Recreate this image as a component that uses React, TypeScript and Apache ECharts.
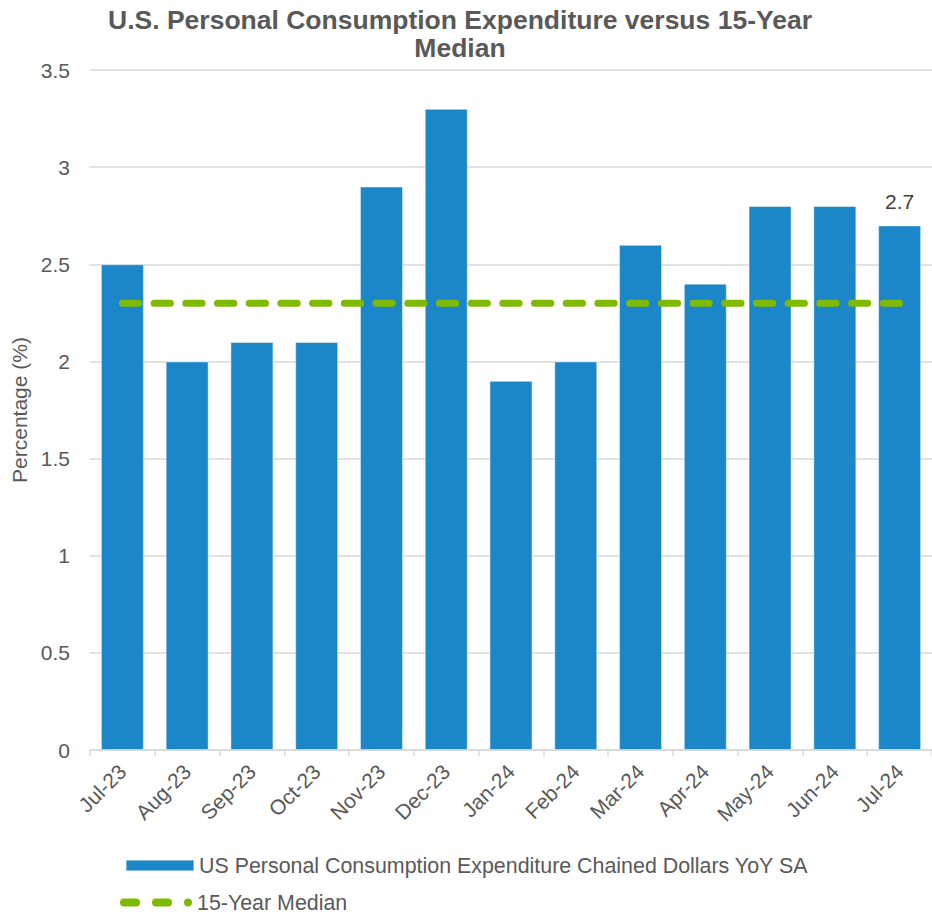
import React, { useEffect, useRef } from "react";
import * as echarts from "echarts";

const titleText = "U.S. Personal Consumption Expenditure versus 15-Year\nMedian";
const categories = ["Jul-23", "Aug-23", "Sep-23", "Oct-23", "Nov-23", "Dec-23", "Jan-24", "Feb-24", "Mar-24", "Apr-24", "May-24", "Jun-24", "Jul-24"];
const pceValues = [2.5, 2.0, 2.1, 2.1, 2.9, 3.3, 1.9, 2.0, 2.6, 2.4, 2.8, 2.8, 2.7];
const medianValues = [2.3, 2.3, 2.3, 2.3, 2.3, 2.3, 2.3, 2.3, 2.3, 2.3, 2.3, 2.3, 2.3];
const barName = "US Personal Consumption Expenditure Chained Dollars YoY SA";
const lineName = "15-Year Median";
const yAxisName = "Percentage (%)";
const labelledIndex = [12];

const TEXT = "#595959";
const GRID = "#D9D9D9";
const BLUE = "#1B87C9";
const GREEN = "#7FBA00";
const FONT = "Liberation Sans, Arial, sans-serif";

// legend icon: two rounded dashes and a dot (72 x 8 box)
const DASH_ICON =
  "path://M4,0 H16 A4,4 0 0 1 16,8 H4 A4,4 0 0 1 4,0 Z M36,0 H48 A4,4 0 0 1 48,8 H36 A4,4 0 0 1 36,0 Z M68,0 A4,4 0 0 1 68,8 A4,4 0 0 1 68,0 Z";

export default function App() {
  const ref = useRef<HTMLDivElement>(null);
  useEffect(() => {
    if (!ref.current) return;
    const chart = echarts.init(ref.current, null, { renderer: "svg" });
    chart.setOption({
      animation: false,
      backgroundColor: "#ffffff",
      textStyle: { fontFamily: FONT },
      title: {
        text: titleText,
        left: 455,
        top: 1,
        textAlign: "center",
        textStyle: { fontFamily: FONT, fontSize: 26.5, fontWeight: "bold", color: TEXT, lineHeight: 28 },
      },
      grid: { left: 90, right: -9, top: 70, bottom: 165, containLabel: false },
      legend: [
        {
          left: 120,
          top: 850,
          itemWidth: 68,
          itemHeight: 11,
          textStyle: { fontFamily: FONT, fontSize: 21.4, color: TEXT },
          data: [{ name: barName, icon: "rect" }],
        },
        {
          left: 115,
          top: 887,
          itemWidth: 72,
          itemHeight: 8,
          textStyle: { fontFamily: FONT, fontSize: 21.4, color: TEXT },
          data: [{ name: lineName, icon: DASH_ICON, itemStyle: { color: GREEN } }],
        },
      ],
      xAxis: {
        type: "category",
        data: categories,
        axisLine: { lineStyle: { color: GRID, width: 1.5 } },
        axisTick: { show: true, length: 6, lineStyle: { color: GRID, width: 1.5 } },
        axisLabel: { interval: 0, rotate: 45, fontSize: 21, color: TEXT, fontFamily: FONT, margin: 18 },
      },
      yAxis: {
        type: "value",
        min: 0,
        max: 3.5,
        interval: 0.5,
        name: yAxisName,
        nameLocation: "middle",
        nameGap: 57,
        nameTextStyle: { fontSize: 21, color: TEXT, fontFamily: FONT },
        axisLine: { show: false },
        axisTick: { show: false },
        axisLabel: { fontSize: 21, color: TEXT, fontFamily: FONT, margin: 20 },
        splitLine: { lineStyle: { color: GRID, width: 1.5 } },
      },
      series: [
        {
          name: barName,
          type: "bar",
          barWidth: 43,
          itemStyle: { color: BLUE, borderColor: "rgba(255,255,255,0.45)", borderWidth: 1 },
          label: { show: false, position: "top", fontSize: 21, color: "#404040", fontFamily: FONT, distance: 13 },
          data: pceValues.map((v, i) => (labelledIndex.includes(i) ? { value: v, label: { show: true } } : v)),
        },
        {
          name: lineName,
          type: "line",
          symbol: "none",
          data: medianValues,
          lineStyle: { color: GREEN, width: 7, type: [16.3, 15.4], cap: "round" },
          itemStyle: { color: GREEN },
        },
      ],
    });
    return () => chart.dispose();
  }, []);
  return <div ref={ref} style={{ position: "fixed", left: 0, top: 0, width: 932, height: 915, background: "#fff" }} />;
}
